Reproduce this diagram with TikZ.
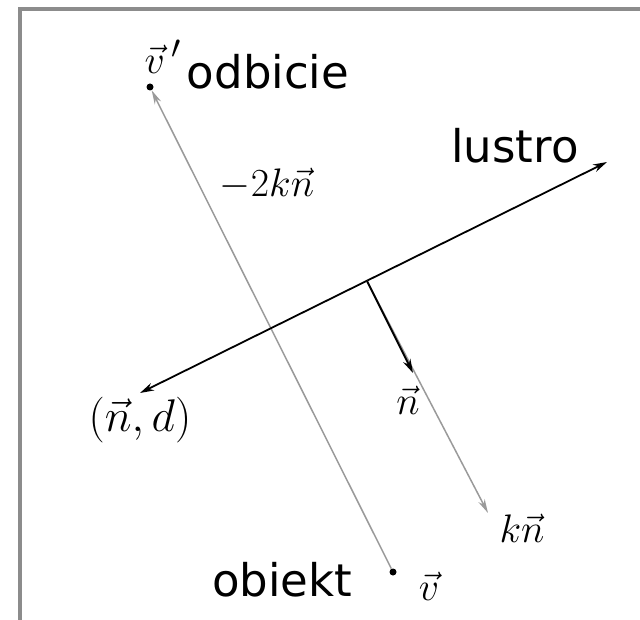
\documentclass[tikz,border=0pt]{standalone}
\usepackage{fontspec}
\setsansfont{DejaVu Sans}
\usetikzlibrary{arrows.meta}
\definecolor{framegray}{HTML}{8C8C8C}
\definecolor{linegray}{HTML}{9A9A9A}
\tikzset{
  word/.style={font=\sffamily\fontsize{45}{49}\selectfont, inner sep=0pt},
  mathlbl/.style={font=\Huge, inner sep=0pt, scale=1.6},
  dotnode/.style={circle, fill=black, inner sep=0pt, minimum size=7pt},
  tipblack/.style={-{Stealth[length=14pt,width=8pt]}},
  graytip/.style={-{Stealth[length=14pt,width=7pt]}},
}
\begin{document}
\begin{tikzpicture}[x=1pt,y=-1pt]
\useasboundingbox (0,0) rectangle (640,620);
% frame
\draw[framegray, line width=4pt] (20,620) -- (20,9) -- (640,9);
% points
\node[dotnode] (vp) at (150,87) {};
\node[dotnode] (v) at (393,572) {};
\coordinate (mL) at (140,393);
\coordinate (mR) at (607,162);
\coordinate (foot) at (367,281);
\coordinate (ntip) at (413,373);
\coordinate (kntip) at (488,513);
% reflection line
\draw[linegray, line width=1.5pt, graytip] (v) -- (vp);
% mirror
\draw[black, line width=1.8pt, {Stealth[length=14pt,width=8pt]}-{Stealth[length=14pt,width=8pt]}] (mL) -- (mR);
% normal
\draw[linegray, line width=1.5pt, graytip] (foot) -- (kntip);
\draw[black, line width=1.8pt, tipblack] (foot) -- (ntip);
% labels
\node[mathlbl] (lvp) at (163,57) {$\vec{v}\,'$};
\node[word] (lodb) at (268,72) {odbicie};
\node[word] (llus) at (515,146) {lustro};
\node[mathlbl] (l2kn) at (267,184) {$-2k\vec{n}$};
\node[mathlbl, scale=1.15] (lnd) at (140,420) {$(\vec{n},d)$};
\node[mathlbl] (ln) at (408,400) {$\vec{n}$};
\node[mathlbl] (lkn) at (522,528) {$k\vec{n}$};
\node[word] (lobj) at (282,580) {obiekt};
\node[mathlbl] (lv) at (429,586) {$\vec{v}$};
\end{tikzpicture}
\end{document}
